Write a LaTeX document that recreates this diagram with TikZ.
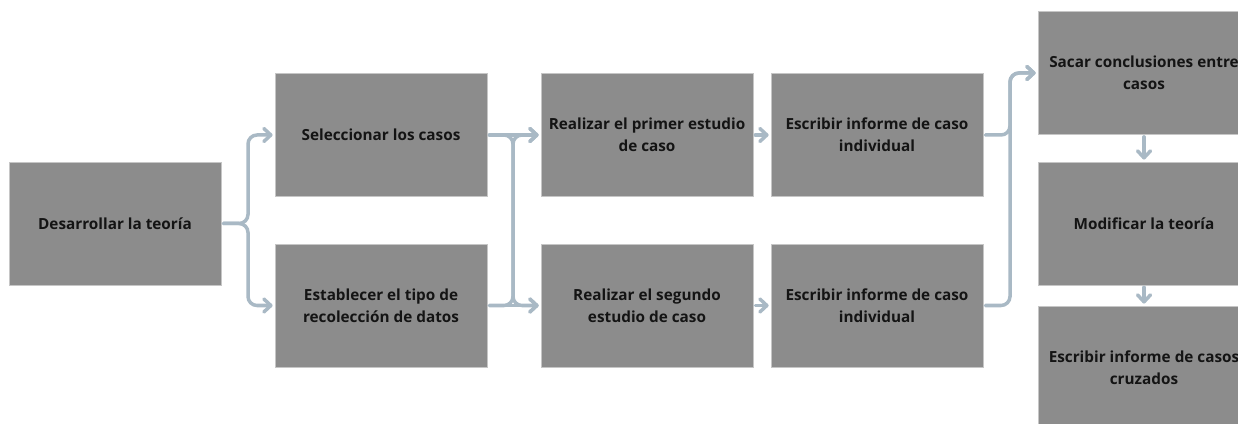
\documentclass[tikz,border=0pt]{standalone}
\usepackage{fontspec}
\setmainfont{Open Sans}
\usetikzlibrary{arrows.meta}
\definecolor{boxgray}{HTML}{8C8C8C}
\definecolor{boxedge}{HTML}{C6C6C6}
\definecolor{flowblue}{HTML}{A9B9C5}
\definecolor{textdark}{HTML}{141414}
\begin{document}
\begin{tikzpicture}[x=1pt,y=1pt,
  box/.style={draw=boxedge, line width=0.8pt, fill=boxgray, text=textdark,
    minimum width=212pt, minimum height=123pt, inner sep=0pt, align=center,
    font=\fontsize{15.3}{22}\selectfont\bfseries},
  flow/.style={draw=flowblue, line width=3.5pt, rounded corners=9pt, line cap=round,
    -{Straight Barb[length=7pt,width=13pt,round]}, shorten >=2pt, shorten <=2pt}]
  \useasboundingbox (0,0) rectangle (1238,423);
  % Nodes
  \node[box] (Theory) at (115,199.5) {Desarrollar la teoría};
  \node[box] (Select) at (381,288) {Seleccionar los casos};
  \node[box] (Collect) at (381,117.5) {Establecer el tipo de\\recolección de datos};
  \node[box] (CaseA) at (647,288) {Realizar el primer estudio\\de caso};
  \node[box] (CaseB) at (647,117.5) {Realizar el segundo\\estudio de caso};
  \node[box] (ReportA) at (877,288) {Escribir informe de caso\\individual};
  \node[box] (ReportB) at (877,117.5) {Escribir informe de caso\\individual};
  \node[box] (Cross) at (1144,350) {Sacar conclusiones entre\\casos};
  \node[box] (Modify) at (1144,199.5) {Modificar la teoría};
  \node[box] (Final) at (1144,55.5) {Escribir informe de casos\\cruzados};

  % Arrows
  \draw[flow] (Theory.east) -- (248,199.5) -- (248,288) -- (Select.west);
  \draw[flow] (Theory.east) -- (248,199.5) -- (248,117.5) -- (Collect.west);
  \draw[flow] (Select.east) -- (CaseA.west);
  \draw[flow] (Collect.east) -- (CaseB.west);
  \draw[flow] (Select.east) -- (513,288) -- (513,117.5) -- (CaseB.west);
  \draw[flow] (Collect.east) -- (513,117.5) -- (513,288) -- (CaseA.west);
  \draw[flow] (CaseA) -- (ReportA);
  \draw[flow] (CaseB) -- (ReportB);
  \draw[flow] (ReportA.east) -- (1010,288) -- (1010,350) -- (Cross.west);
  \draw[flow] (ReportB.east) -- (1010,117.5) -- (1010,350) -- (Cross.west);
  \draw[flow] (Cross) -- (Modify);
  \draw[flow] (Modify) -- (Final);
\end{tikzpicture}
\end{document}
